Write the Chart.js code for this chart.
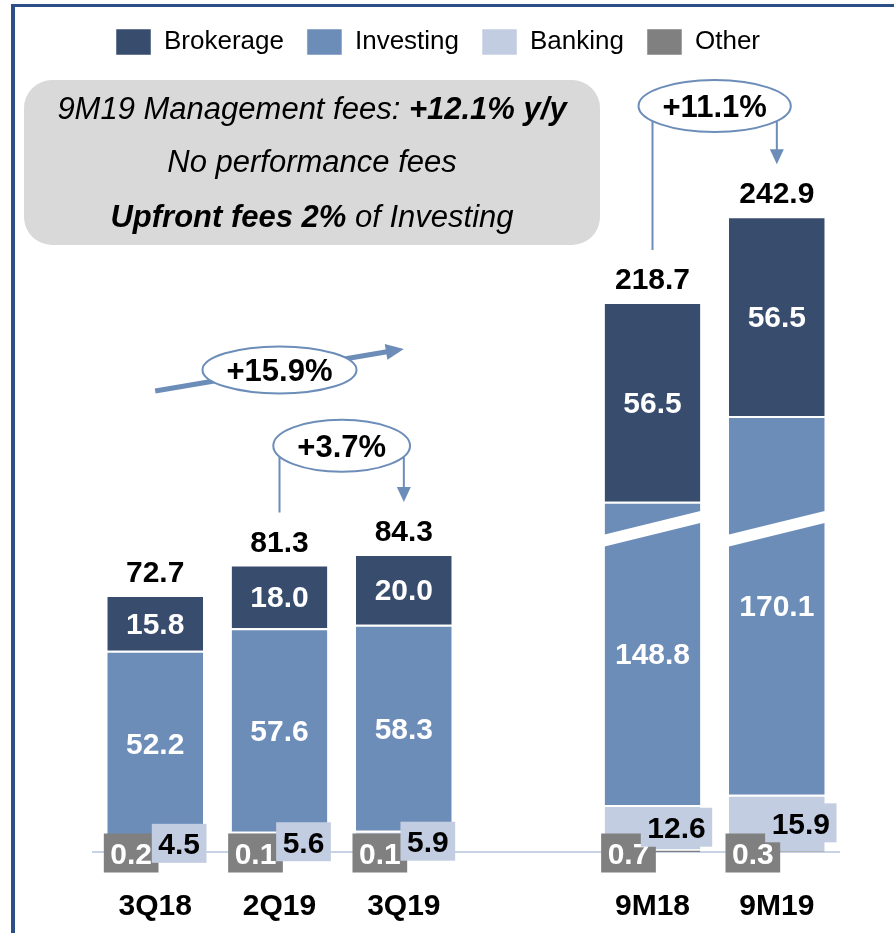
<!DOCTYPE html>
<html>
<head>
<meta charset="utf-8">
<script src="https://cdn.jsdelivr.net/npm/chart.js@4.4.1/dist/chart.umd.min.js"></script>
<style>
  html, body { margin: 0; padding: 0; background: #fff; }
  #wrap { position: relative; width: 894px; height: 933px; }
</style>
</head>
<body>
<div id="wrap"><canvas id="chart" width="894" height="933"></canvas></div>
<script>
// ── Data ─────────────────────────────────────────────────────────────────────
const CATEGORIES = ['3Q18', '2Q19', '3Q19', '', '9M18', '9M19'];
const BROKERAGE  = [15.8, 18.0, 20.0, null, 56.5, 56.5];
const INVESTING  = [52.2, 57.6, 58.3, null, 148.8, 170.1];
const BANKING    = [4.5, 5.6, 5.9, null, 12.6, 15.9];
const OTHER      = [0.2, 0.1, 0.1, null, 0.7, 0.3];
const TOTALS     = [72.7, 81.3, 84.3, null, 218.7, 242.9];

// the 9M bars sit on a broken axis: part of Investing is cut out
const BROKEN    = [false, false, false, false, true, true];
const BREAK_GAP = 63.0;   // value removed by the break
const BREAK_AT  = 91.4;   // level of the white break band (shown units)
const Y_MAX     = 222.6;

// growth call-outs
const GROWTH = [
    { from: '3Q18', to: '3Q19', text: '+15.9%', kind: 'slope', y0: 130.4, y1: 142.3 },
    { from: '2Q19', to: '3Q19', text: '+3.7%',  kind: 'bracket', level: 114.9 },
    { from: '9M18', to: '9M19', text: '+11.1%', kind: 'bracket', level: 211.0 },
];

// grey note box, runs of [text, bold]
const NOTE_LINES = [
    [['9M19 Management fees: ', false], ['+12.1% y/y', true]],
    [['No performance fees', false]],
    [['Upfront fees 2%', true], [' of Investing', false]],
];

const COLORS = {
    brokerage: '#384D6E',
    investing: '#6D8DB9',
    banking:   '#C3CDE1',
    other:     '#808080',
    accent:    '#6D8DB9',
    frame:     '#2B4F86',
    axis:      '#C9D3E6',
    note:      '#D9D9D9',
};

const FONT = '"Liberation Sans", Arial, sans-serif';
const INVESTING_SHOWN = INVESTING.map((v, i) => v == null ? null : (BROKEN[i] ? v - BREAK_GAP : v));

// ── Helpers ──────────────────────────────────────────────────────────────────
function boxLabel(ctx, text, cx, cy, fill, color) {
    ctx.font = `bold 30px ${FONT}`;
    const w = ctx.measureText(text).width + 13;
    const h = 39;
    ctx.fillStyle = fill;
    ctx.fillRect(cx - w / 2, cy - h / 2, w, h);
    ctx.fillStyle = color;
    ctx.textAlign = 'center';
    ctx.textBaseline = 'alphabetic';
    ctx.fillText(text, cx, cy + 11);
}

function arrowHead(ctx, tipX, tipY, angle, len, half) {
    ctx.save();
    ctx.translate(tipX, tipY);
    ctx.rotate(angle);
    ctx.beginPath();
    ctx.moveTo(0, 0);
    ctx.lineTo(-len, -half);
    ctx.lineTo(-len, half);
    ctx.closePath();
    ctx.fill();
    ctx.restore();
}

function ellipseLabel(ctx, text, cx, cy, h) {
    ctx.font = `bold 31px ${FONT}`;
    const w = ctx.measureText(text).width + 48;
    ctx.beginPath();
    ctx.ellipse(cx, cy, w / 2, h / 2, 0, 0, Math.PI * 2);
    ctx.fillStyle = '#fff';
    ctx.fill();
    ctx.lineWidth = 2;
    ctx.strokeStyle = COLORS.accent;
    ctx.stroke();
    ctx.fillStyle = '#000';
    ctx.textAlign = 'center';
    ctx.textBaseline = 'alphabetic';
    ctx.fillText(text, cx, cy + 11);
}

// ── Plugins ──────────────────────────────────────────────────────────────────
const framePlugin = {
    id: 'frame',
    beforeDraw(chart) {
        const ctx = chart.ctx;
        ctx.save();
        ctx.fillStyle = COLORS.frame;
        ctx.fillRect(11, 4, chart.width - 11, 3);
        ctx.fillRect(11, 4, 4, chart.height - 4);
        ctx.restore();
    }
};

const labelsPlugin = {
    id: 'labels',
    afterDatasetsDraw(chart) {
        const ctx = chart.ctx;
        const y = chart.scales.y;
        const other = chart.getDatasetMeta(0).data;
        const bank  = chart.getDatasetMeta(1).data;
        const inv   = chart.getDatasetMeta(2).data;
        const brok  = chart.getDatasetMeta(3).data;
        ctx.save();

        // axis break bands
        CATEGORIES.forEach((c, i) => {
            if (!BROKEN[i]) return;
            const b = inv[i];
            const L = b.x - b.width / 2 - 1, R = b.x + b.width / 2 + 1;
            const yc = y.getPixelForValue(BREAK_AT);
            const rise = 12, half = 6;
            ctx.fillStyle = '#fff';
            ctx.beginPath();
            ctx.moveTo(L, yc + rise - half);
            ctx.lineTo(R, yc - rise - half);
            ctx.lineTo(R, yc - rise + half);
            ctx.lineTo(L, yc + rise + half);
            ctx.closePath();
            ctx.fill();
        });

        ctx.textAlign = 'center';
        ctx.textBaseline = 'alphabetic';
        ctx.font = `bold 30px ${FONT}`;
        CATEGORIES.forEach((c, i) => {
            if (TOTALS[i] == null) return;
            // inside labels
            ctx.fillStyle = '#fff';
            ctx.fillText(BROKERAGE[i].toFixed(1), brok[i].x, (brok[i].y + brok[i].base) / 2 + 11);
            ctx.fillText(INVESTING[i].toFixed(1), inv[i].x, (inv[i].y + inv[i].base) / 2 + 11);
            // totals
            ctx.fillStyle = '#000';
            ctx.fillText(TOTALS[i].toFixed(1), brok[i].x, brok[i].y - 13);
        });

        // small segments: boxed labels below / beside
        CATEGORIES.forEach((c, i) => {
            if (TOTALS[i] == null) return;
            boxLabel(ctx, OTHER[i].toFixed(1), other[i].x - 24, other[i].base + 1, COLORS.other, '#fff');
            boxLabel(ctx, BANKING[i].toFixed(1), bank[i].x + 24, (bank[i].y + bank[i].base) / 2, COLORS.banking, '#000');
        });
        ctx.restore();
    },
    afterDraw(chart) {
        const ctx = chart.ctx;
        const x = chart.scales.x;
        const y = chart.scales.y;
        const brok = chart.getDatasetMeta(3).data;
        const idx = (c) => CATEGORIES.indexOf(c);
        ctx.save();

        // note box
        ctx.fillStyle = COLORS.note;
        ctx.beginPath();
        ctx.roundRect(24, 80, 576, 165, 28);
        ctx.fill();
        const rows = [110, 163, 218];
        NOTE_LINES.forEach((runs, r) => {
            const fonts = runs.map(([, bold]) => `italic ${bold ? 'bold ' : ''}31px ${FONT}`);
            let total = 0;
            const widths = runs.map(([t], k) => { ctx.font = fonts[k]; const w = ctx.measureText(t).width; total += w; return w; });
            let cx = 312 - total / 2;
            ctx.textAlign = 'left';
            ctx.textBaseline = 'middle';
            ctx.fillStyle = '#000';
            runs.forEach(([t], k) => {
                ctx.font = fonts[k];
                ctx.fillText(t, cx, rows[r]);
                cx += widths[k];
            });
        });

        // growth call-outs
        GROWTH.forEach(g => {
            const a = idx(g.from), b = idx(g.to);
            const xa = x.getPixelForValue(a), xb = x.getPixelForValue(b);
            ctx.strokeStyle = COLORS.accent;
            ctx.fillStyle = COLORS.accent;
            if (g.kind === 'slope') {
                const ya = y.getPixelForValue(g.y0), yb = y.getPixelForValue(g.y1);
                const ang = Math.atan2(yb - ya, xb - xa);
                ctx.lineWidth = 5;
                ctx.beginPath();
                ctx.moveTo(xa, ya);
                ctx.lineTo(xb - 14 * Math.cos(ang), yb - 14 * Math.sin(ang));
                ctx.stroke();
                arrowHead(ctx, xb, yb, ang, 18, 8);
                ellipseLabel(ctx, g.text, (xa + xb) / 2, (ya + yb) / 2, 47);
            } else {
                const ye = y.getPixelForValue(g.level);
                const endA = brok[a].y - 52, endB = brok[b].y - 52;
                ctx.lineWidth = 2;
                ctx.beginPath();
                ctx.moveTo(xa, ye); ctx.lineTo(xa, endA);
                ctx.moveTo(xb, ye); ctx.lineTo(xb, endB - 12);
                ctx.stroke();
                arrowHead(ctx, xb, endB, Math.PI / 2, 15, 7);
                ellipseLabel(ctx, g.text, (xa + xb) / 2, ye, 52);
            }
        });
        ctx.restore();
    }
};

// ── Chart ────────────────────────────────────────────────────────────────────
const segBorder = { top: 2, right: 0, bottom: 0, left: 0 };
const mkSet = (label, data, color) => ({
    label, data,
    backgroundColor: color,
    borderColor: '#fff',
    borderWidth: segBorder,
    borderSkipped: false,
    barPercentage: 0.77,
    categoryPercentage: 1.0,
});

new Chart(document.getElementById('chart'), {
    type: 'bar',
    data: {
        labels: CATEGORIES,
        datasets: [
            mkSet('Other', OTHER, COLORS.other),
            mkSet('Banking', BANKING, COLORS.banking),
            mkSet('Investing', INVESTING_SHOWN, COLORS.investing),
            mkSet('Brokerage', BROKERAGE, COLORS.brokerage),
        ]
    },
    options: {
        responsive: false,
        animation: false,
        devicePixelRatio: 1,
        layout: { padding: { top: 6, left: 93, right: 55, bottom: 0 } },
        plugins: {
            tooltip: { enabled: false },
            legend: {
                position: 'top',
                align: 'start',
                reverse: true,
                labels: {
                    boxWidth: 35,
                    boxHeight: 26,
                    padding: 23,
                    color: '#000',
                    font: { family: FONT, size: 26 }
                }
            }
        },
        scales: {
            x: {
                stacked: true,
                grid: { display: false, drawTicks: false },
                border: { display: true, color: COLORS.axis, width: 2 },
                ticks: {
                    padding: 37,
                    color: '#000',
                    font: { family: FONT, size: 30, weight: 'bold' }
                },
                afterFit(scale) { scale.height = 81; }
            },
            y: {
                stacked: true,
                display: false,
                min: 0,
                max: Y_MAX
            }
        }
    },
    plugins: [framePlugin, labelsPlugin]
});
</script>
</body>
</html>
